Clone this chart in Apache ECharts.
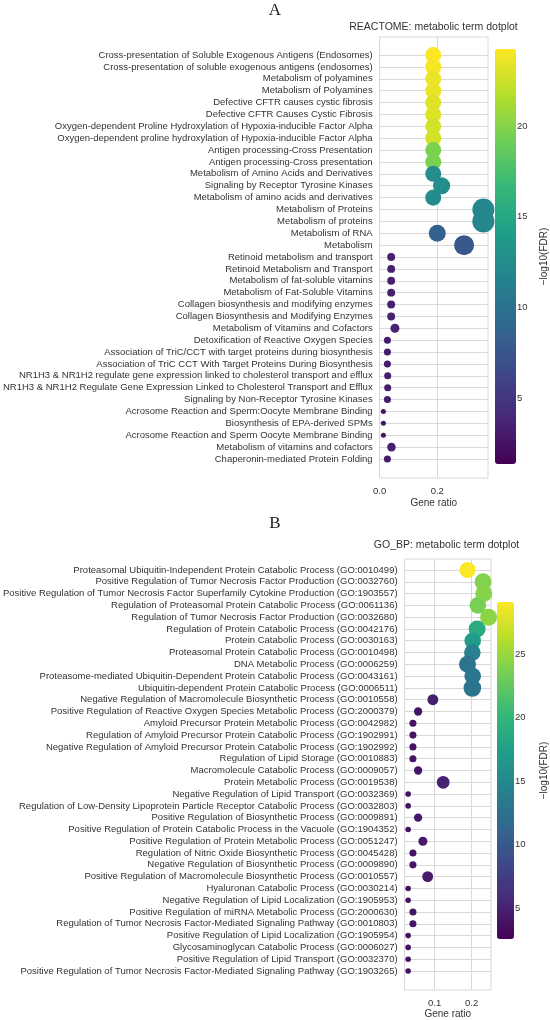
<!DOCTYPE html>
<html>
<head>
<meta charset="utf-8">
<title>metabolic term dotplot</title>
<script src="https://cdn.jsdelivr.net/npm/echarts@6/dist/echarts.min.js"></script>
<style>
  html, body { margin: 0; padding: 0; background: #fff; }
  #chart { width: 550px; height: 1020px; }
</style>
</head>
<body>
<div id="chart"></div>
<script>
// panel A: REACTOME terms, top to bottom
const termsA = [
  'Cross-presentation of Soluble Exogenous Antigens (Endosomes)',
  'Cross-presentation of soluble exogenous antigens (endosomes)',
  'Metabolism of polyamines',
  'Metabolism of Polyamines',
  'Defective CFTR causes cystic fibrosis',
  'Defective CFTR Causes Cystic Fibrosis',
  'Oxygen-dependent Proline Hydroxylation of Hypoxia-inducible Factor Alpha',
  'Oxygen-dependent proline hydroxylation of Hypoxia-inducible Factor Alpha',
  'Antigen processing-Cross Presentation',
  'Antigen processing-Cross presentation',
  'Metabolism of Amino Acids and Derivatives',
  'Signaling by Receptor Tyrosine Kinases',
  'Metabolism of amino acids and derivatives',
  'Metabolism of Proteins',
  'Metabolism of proteins',
  'Metabolism of RNA',
  'Metabolism',
  'Retinoid metabolism and transport',
  'Retinoid Metabolism and Transport',
  'Metabolism of fat-soluble vitamins',
  'Metabolism of Fat-Soluble Vitamins',
  'Collagen biosynthesis and modifying enzymes',
  'Collagen Biosynthesis and Modifying Enzymes',
  'Metabolism of Vitamins and Cofactors',
  'Detoxification of Reactive Oxygen Species',
  'Association of TriC/CCT with target proteins during biosynthesis',
  'Association of TriC CCT With Target Proteins During Biosynthesis',
  'NR1H3 & NR1H2 regulate gene expression linked to cholesterol transport and efflux',
  'NR1H3 & NR1H2 Regulate Gene Expression Linked to Cholesterol Transport and Efflux',
  'Signaling by Non-Receptor Tyrosine Kinases',
  'Acrosome Reaction and Sperm:Oocyte Membrane Binding',
  'Biosynthesis of EPA-derived SPMs',
  'Acrosome Reaction and Sperm Oocyte Membrane Binding',
  'Metabolism of vitamins and cofactors',
  'Chaperonin-mediated Protein Folding'
]
const ratioA = [0.186, 0.186, 0.186, 0.186, 0.186, 0.186, 0.186, 0.186, 0.186, 0.186, 0.186, 0.215, 0.186,
  0.36, 0.36, 0.2, 0.293, 0.04, 0.04, 0.04, 0.04, 0.04, 0.04, 0.053, 0.027, 0.027, 0.027, 0.028, 0.028,
  0.027, 0.013, 0.013, 0.013, 0.041, 0.027]
// -log10(FDR)
const fdrA = [24.2, 24.0, 23.6, 23.6, 23.2, 23.2, 22.7, 22.7, 19.6, 19.6, 12.4, 12.6, 12.4, 12.0, 12.0,
  8.4, 7.6, 3.4, 3.4, 3.4, 3.4, 3.4, 3.4, 3.6, 3.0, 3.0, 3.0, 3.0, 3.0, 3.0, 2.7, 2.7, 2.7, 3.4, 3.0]
const countA = [41, 41, 41, 41, 41, 41, 41, 41, 41, 41, 41, 47, 41, 78, 78, 46, 64, 10, 10, 10, 10, 10, 10,
  13, 8, 8, 8, 8, 8, 8, 4, 4, 4, 12, 8]
const ratioTicksA = [0, 0.2]
const fdrTicksA = [5, 10, 15, 20]

// panel B: GO_BP terms, top to bottom
const termsB = [
  'Proteasomal Ubiquitin-Independent Protein Catabolic Process (GO:0010499)',
  'Positive Regulation of Tumor Necrosis Factor Production (GO:0032760)',
  'Positive Regulation of Tumor Necrosis Factor Superfamily Cytokine Production (GO:1903557)',
  'Regulation of Proteasomal Protein Catabolic Process (GO:0061136)',
  'Regulation of Tumor Necrosis Factor Production (GO:0032680)',
  'Regulation of Protein Catabolic Process (GO:0042176)',
  'Protein Catabolic Process (GO:0030163)',
  'Proteasomal Protein Catabolic Process (GO:0010498)',
  'DNA Metabolic Process (GO:0006259)',
  'Proteasome-mediated Ubiquitin-Dependent Protein Catabolic Process (GO:0043161)',
  'Ubiquitin-dependent Protein Catabolic Process (GO:0006511)',
  'Negative Regulation of Macromolecule Biosynthetic Process (GO:0010558)',
  'Positive Regulation of Reactive Oxygen Species Metabolic Process (GO:2000379)',
  'Amyloid Precursor Protein Metabolic Process (GO:0042982)',
  'Regulation of Amyloid Precursor Protein Catabolic Process (GO:1902991)',
  'Negative Regulation of Amyloid Precursor Protein Catabolic Process (GO:1902992)',
  'Regulation of Lipid Storage (GO:0010883)',
  'Macromolecule Catabolic Process (GO:0009057)',
  'Protein Metabolic Process (GO:0019538)',
  'Negative Regulation of Lipid Transport (GO:0032369)',
  'Regulation of Low-Density Lipoprotein Particle Receptor Catabolic Process (GO:0032803)',
  'Positive Regulation of Biosynthetic Process (GO:0009891)',
  'Positive Regulation of Protein Catabolic Process in the Vacuole (GO:1904352)',
  'Positive Regulation of Protein Metabolic Process (GO:0051247)',
  'Regulation of Nitric Oxide Biosynthetic Process (GO:0045428)',
  'Negative Regulation of Biosynthetic Process (GO:0009890)',
  'Positive Regulation of Macromolecule Biosynthetic Process (GO:0010557)',
  'Hyaluronan Catabolic Process (GO:0030214)',
  'Negative Regulation of Lipid Localization (GO:1905953)',
  'Positive Regulation of miRNA Metabolic Process (GO:2000630)',
  'Regulation of Tumor Necrosis Factor-Mediated Signaling Pathway (GO:0010803)',
  'Positive Regulation of Lipid Localization (GO:1905954)',
  'Glycosaminoglycan Catabolic Process (GO:0006027)',
  'Positive Regulation of Lipid Transport (GO:0032370)',
  'Positive Regulation of Tumor Necrosis Factor-Mediated Signaling Pathway (GO:1903265)'
]
const ratioB = [0.189, 0.231, 0.233, 0.217, 0.246, 0.215, 0.203, 0.202, 0.189, 0.203, 0.202, 0.095, 0.055,
  0.041, 0.041, 0.041, 0.041, 0.055, 0.123, 0.028, 0.028, 0.055, 0.028, 0.068, 0.041, 0.041, 0.081, 0.028,
  0.028, 0.041, 0.041, 0.028, 0.028, 0.028, 0.028]
const fdrB = [29.0, 24.0, 24.2, 23.6, 24.4, 18.8, 17.2, 14.2, 12.6, 13.0, 12.8, 4.8, 4.2, 4.0, 4.0, 4.0, 4.0,
  4.2, 5.0, 3.8, 3.8, 4.2, 3.8, 4.4, 4.0, 4.0, 4.6, 3.8, 3.8, 4.0, 4.0, 3.8, 3.8, 3.8, 3.8]
const countB = [41, 46, 46, 44, 46, 46, 44, 44, 46, 44, 50, 19, 11, 8, 8, 8, 8, 11, 26, 5, 5, 11, 5, 13, 8, 8,
  19, 5, 5, 8, 8, 5, 5, 5, 5]
const ratioTicksB = [0.1, 0.2]
const fdrTicksB = [5, 10, 15, 20, 25]

const viridis = ['#440154', '#482878', '#3e4989', '#31688e', '#26828e', '#1f9e89', '#35b779', '#6ece58', '#b5de2b', '#fde725']
const textColor = '#333'
const lineColor = '#d9d9d9'
const fontFamily = '"Liberation Sans", Arial, sans-serif'

const chart = echarts.init(document.getElementById('chart'), null, { renderer: 'canvas' })

// one dotplot panel: main grid + colorbar grid with its own axis for the ticks
function buildPanel(p, n) {
  const idx = p.terms.map((_, i) => i)
  const data = p.terms.map((t, i) => [p.ratio[i], i, p.fdr[i], p.count[i], t])
  const g = n * 2
  return {
    grid: [
      { left: p.plot[0], top: p.plot[1], width: p.plot[2], height: p.plot[3], show: true,
        borderColor: lineColor, borderWidth: 1, backgroundColor: 'transparent' },
      { left: p.bar[0], top: p.bar[1], width: p.bar[2], height: p.bar[3], show: false }
    ],
    xAxis: [
      {
        gridIndex: g, type: 'value', min: p.xRange[0], max: p.xRange[1],
        axisLine: { show: false },
        axisTick: { show: false, customValues: p.xTicks },
        axisLabel: { customValues: p.xTicks, formatter: v => v.toFixed(1), fontSize: 9.5, color: textColor,
          fontFamily, margin: 8 },
        splitLine: { show: true, lineStyle: { color: lineColor, width: 1 } },
        name: 'Gene ratio', nameLocation: 'middle', nameGap: p.nameGap,
        nameTextStyle: { fontSize: 10, color: textColor, fontFamily }
      },
      { gridIndex: g + 1, type: 'value', show: false, min: 0, max: 1 }
    ],
    yAxis: [
      {
        gridIndex: g, type: 'value', inverse: true, min: p.yRange[0], max: p.yRange[1],
        axisLine: { show: false },
        axisTick: { show: false, customValues: idx },
        axisLabel: { customValues: idx, formatter: v => p.terms[Math.round(v)], fontSize: 9.5,
          color: textColor, fontFamily, margin: 7 },
        splitLine: { show: true, lineStyle: { color: lineColor, width: 1 } }
      },
      {
        gridIndex: g + 1, type: 'value', position: 'right', min: p.cRange[0], max: p.cRange[1],
        axisLine: { show: false },
        axisTick: { show: true, length: 3, customValues: p.cTicks, lineStyle: { color: textColor } },
        axisLabel: { customValues: p.cTicks, fontSize: 9.5, color: textColor, fontFamily, margin: 2 },
        splitLine: { show: false },
        name: '\u2212log10(FDR)', nameLocation: 'middle', nameRotate: 90, nameGap: p.cNameGap,
        nameTextStyle: { fontSize: 10, color: textColor, fontFamily }
      }
    ],
    series: {
      type: 'scatter', xAxisIndex: g, yAxisIndex: g, data: data, clip: true,
      symbolSize: v => 2.5 * Math.sqrt(v[3]),
      itemStyle: { opacity: 1 }
    },
    visualMap: {
      type: 'continuous', seriesIndex: n, dimension: 2, min: p.cRange[0], max: p.cRange[1],
      inRange: { color: viridis }, left: p.bar[0], top: p.bar[1], itemWidth: p.bar[2], itemHeight: p.bar[3],
      padding: 0, calculable: false, hoverLink: false, text: null, showLabel: false
    },
    title: [
      { text: p.letter, left: 275, top: p.letterTop, textAlign: 'center', padding: 0,
        textStyle: { fontFamily: '"Liberation Serif", "DejaVu Serif", serif', fontSize: 17, fontWeight: 'normal', color: '#222' } },
      { text: p.title, left: p.plot[0] + p.plot[2] / 2, top: p.titleTop, textAlign: 'center', padding: 0,
        textStyle: { fontFamily, fontSize: 10.5, fontWeight: 'normal', color: textColor } }
    ]
  }
}

const panelA = buildPanel({
  terms: termsA, ratio: ratioA, fdr: fdrA, count: countA,
  plot: [379, 37, 109, 441], xRange: [0, 0.376], yRange: [-1.52, 35.6], xTicks: ratioTicksA, nameGap: 20,
  bar: [495, 49, 21, 415], cRange: [1.36, 24.25], cTicks: fdrTicksA, cNameGap: 24,
  letter: 'A', letterTop: 2, title: 'REACTOME: metabolic term dotplot', titleTop: 22
}, 0)

const panelB = buildPanel({
  terms: termsB, ratio: ratioB, fdr: fdrB, count: countB,
  plot: [402, 559, 89, 431], xRange: [0.0184, 0.2526], yRange: [-0.93, 35.61], xTicks: ratioTicksB, nameGap: 18,
  bar: [497, 602, 17, 337], cRange: [2.56, 29.1], cTicks: fdrTicksB, cNameGap: 26,
  letter: 'B', letterTop: 515, title: 'GO_BP: metabolic term dotplot', titleTop: 540
}, 1)

chart.setOption({
  animation: false,
  backgroundColor: '#fff',
  textStyle: { fontFamily },
  title: panelA.title.concat(panelB.title),
  grid: panelA.grid.concat(panelB.grid),
  xAxis: panelA.xAxis.concat(panelB.xAxis),
  yAxis: panelA.yAxis.concat(panelB.yAxis),
  visualMap: [panelA.visualMap, panelB.visualMap],
  series: [panelA.series, panelB.series]
})
</script>
</body>
</html>
